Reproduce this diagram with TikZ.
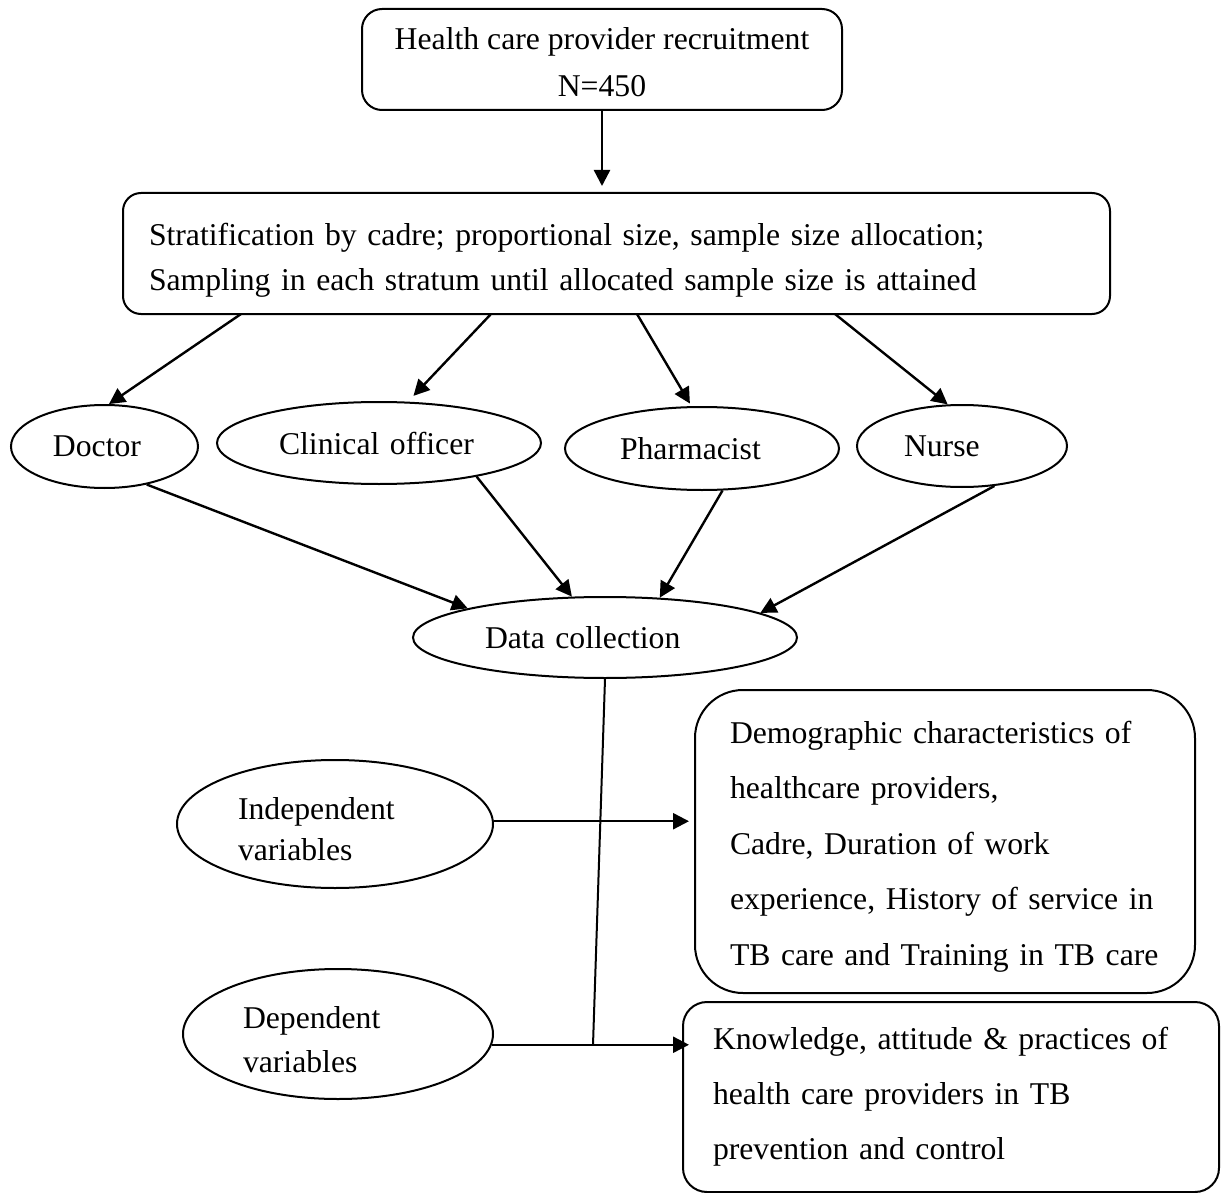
\documentclass[tikz,border=0pt]{standalone}
\usepackage{fontspec}
\setmainfont{Liberation Serif}
\usepackage{tikz}
\usetikzlibrary{
  arrows.meta,
  shapes.geometric,
  calc
}
\definecolor{inkline}{RGB}{0,0,0}
\tikzset{
  % matn
  txt/.style      = {font=\fontsize{15.85}{22}\selectfont, inner sep=0pt},
  % qutilar va ovallar
  rbox/.style     = {rectangle, draw=inkline, line width=1pt, txt},
  oval/.style     = {ellipse, draw=inkline, line width=1pt, txt, align=left},
  % ulagichlar
  arr/.style      = {-{Triangle[length=8pt,width=8pt]}, line width=1.2pt, draw=inkline},
  plainline/.style= {line width=1pt, draw=inkline},
}

\begin{document}
\begin{tikzpicture}[x=0.5pt, y=-0.5pt]
  \useasboundingbox (0,0) rectangle (1222,1193);
  % yuqori qutilar
  \node[rbox, rounded corners=10pt, minimum width=240pt, minimum height=50.5pt, align=center,
    font=\fontsize{15.85}{23.5}\selectfont, text height=37.5pt, text depth=0pt]
    (recruit) at (602,59.5) {Health care provider recruitment\\N=450};
  \node[rbox, rounded corners=9pt, minimum width=493.5pt, minimum height=60.5pt,
    text width=467.5pt, align=left, font=\fontsize{15.85}{22}\selectfont,
    text height=11pt, text depth=18.5pt]
    (strat) at (616.5,253.5)
    {Stratification by cadre; proportional size, sample size allocation;\\
     Sampling in each stratum until allocated sample size is attained};
  % kadrlar
  \node[oval, minimum width=93.5pt, minimum height=41.5pt, text width=51.5pt]
    (doc) at (104.5,446.5) {Doctor};
  \node[oval, minimum width=162pt, minimum height=41pt, text width=100pt]
    (clin) at (379,443) {Clinical officer};
  \node[oval, minimum width=137pt, minimum height=41.5pt, text width=82pt]
    (ph) at (702,448.5) {Pharmacist};
  \node[oval, minimum width=105pt, minimum height=41pt, text width=58pt]
    (nurse) at (962,446) {Nurse};
  \node[oval, minimum width=192pt, minimum height=40.5pt, text width=120pt]
    (data) at (605,637.5) {Data collection};
  % o'zgaruvchilar
  \node[oval, minimum width=158pt, minimum height=64pt, text width=97pt,
    font=\fontsize{15.85}{20.5}\selectfont, text height=11pt, text depth=15.5pt]
    (ind) at (335,824) {Independent\\variables};
  \node[oval, minimum width=155pt, minimum height=65pt, text width=95pt,
    text height=11pt, text depth=17pt]
    (dep) at (338,1034) {Dependent\\variables};
  \node[rbox, rounded corners=24pt, minimum width=250pt, minimum height=151.5pt,
    text width=215pt, align=left, font=\fontsize{15.85}{27.75}\selectfont,
    text height=11pt, text depth=109.5pt]
    (demo) at (945,841.5)
    {Demographic characteristics of\\healthcare providers,\\Cadre, Duration of work\\
     experience, History of service in\\TB care and Training in TB care};
  \node[rbox, rounded corners=12pt, minimum width=268pt, minimum height=95pt,
    text width=238pt, align=left, font=\fontsize{15.85}{27.5}\selectfont]
    (know) at (951,1097)
    {Knowledge, attitude \& practices of\\health care providers in TB\\prevention and control};
  % ulagichlar
  \draw[arr, shorten >=3pt] (recruit.south) -- (recruit.south |- strat.north);
  \coordinate (sD) at (241,314);
  \coordinate (sC) at (491,314);
  \coordinate (sP) at (637,314);
  \coordinate (sN) at (835,314);
  \draw[arr] (sD) -- (doc.84);
  \draw[arr, shorten >=4pt] (sC) -- (clin.55);
  \draw[arr, shorten >=1.5pt] (sP) -- (ph.104);
  \draw[arr] (sN) -- (nurse.109);
  \draw[arr] (doc.-42) -- (data.168);
  \draw[arr] (clin.-19) -- (data.129);
  \draw[arr] (ph.-64) -- (data.36);
  \draw[arr] (nurse.-51) -- (data.9);
  \coordinate (jn) at (593,1045);
  \draw[plainline] (data.south) -- (jn);
  \draw[arr, shorten >=2.5pt] (ind.1) -- (ind.1 -| demo.west);
  \draw[arr, shorten >=-3.5pt] (dep.-4) -- (dep.-4 -| know.west);
\end{tikzpicture}
\end{document}
